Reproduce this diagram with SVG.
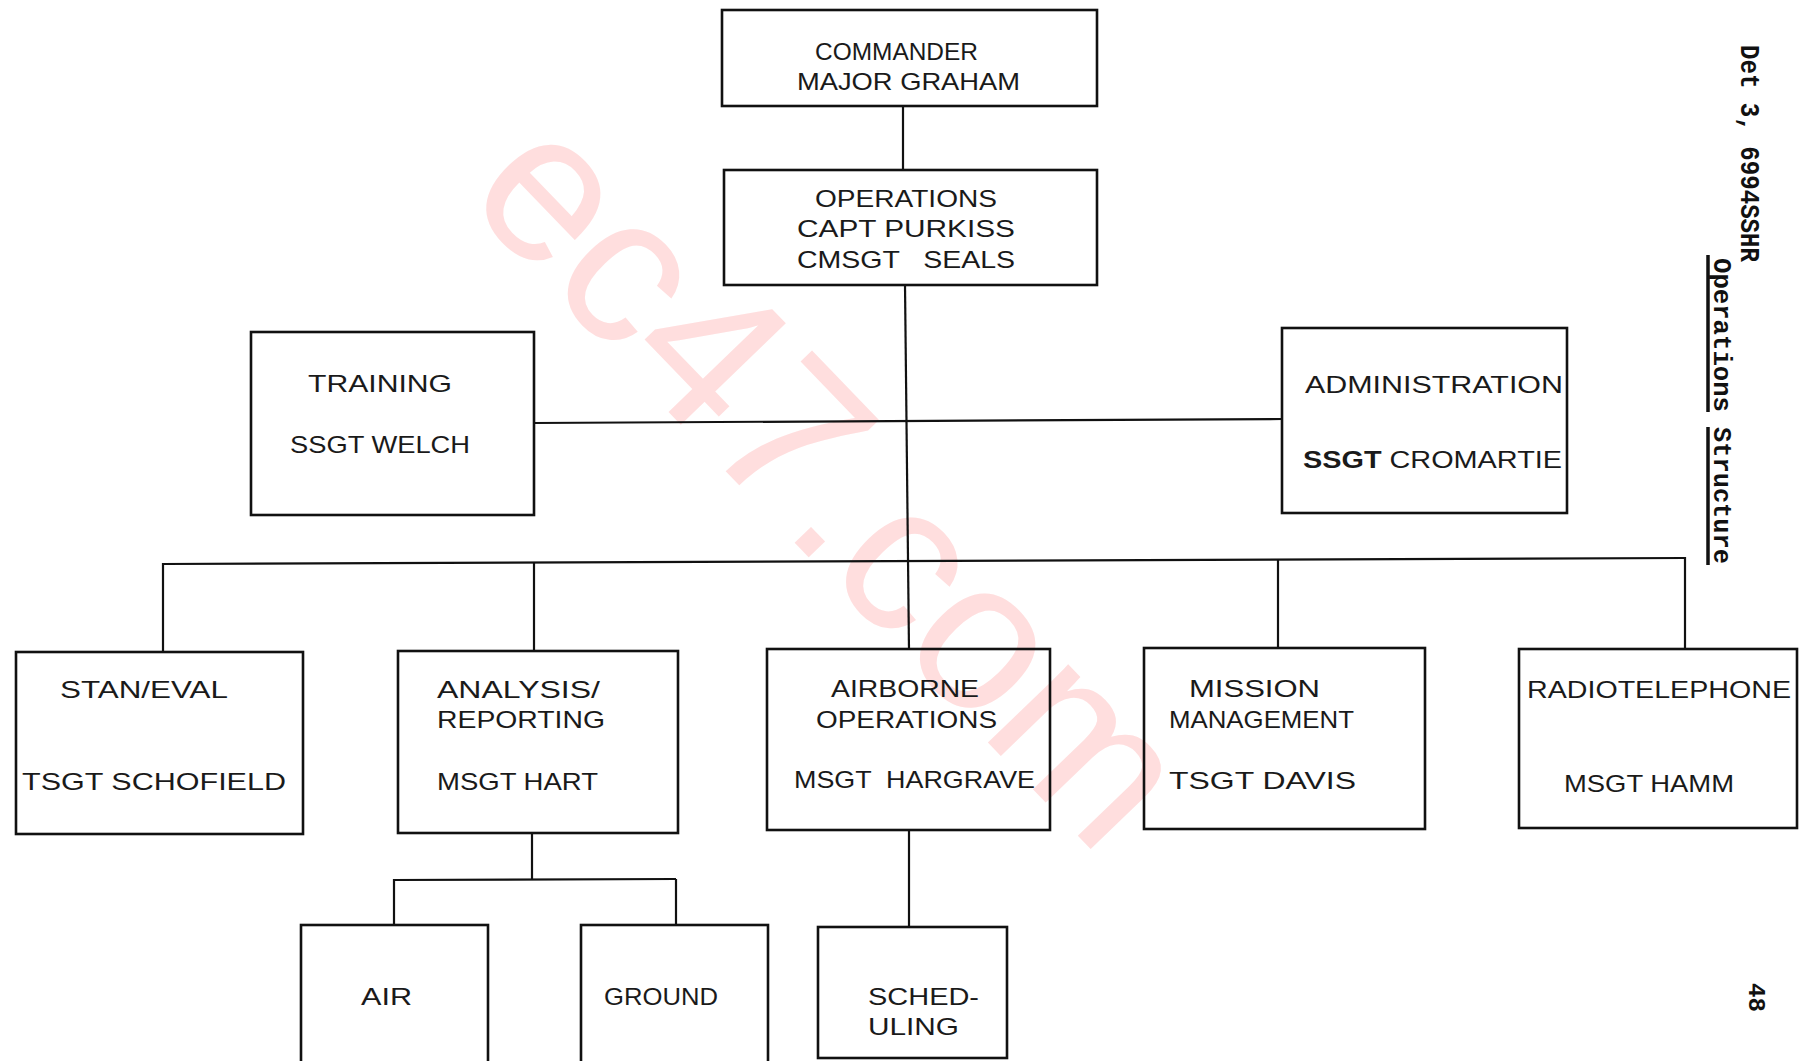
<svg xmlns="http://www.w3.org/2000/svg" width="1802" height="1061" viewBox="0 0 1802 1061">
<style>
.box{fill:none;stroke:#111;stroke-width:2.6}
.ln{fill:none;stroke:#111;stroke-width:2.2}
.t{font-family:"Liberation Sans",Arial,sans-serif;font-size:24px;fill:#1a1a1a}
.m{font-family:"Liberation Mono","Courier New",monospace;font-weight:bold;fill:#111}
.wm{font-family:"Liberation Sans",Arial,sans-serif;font-size:212px;fill:#ffdede}
</style>
<rect width="1802" height="1061" fill="#fff"/>
<g id="watermark"><text class="wm" transform="translate(462,198) rotate(46)">ec47.com</text></g>
<g id="connectors">
<line class="ln" x1="903" y1="106" x2="903" y2="170"/>
<line class="ln" x1="905" y1="285" x2="909" y2="650"/>
<line class="ln" x1="534" y1="423" x2="1282" y2="419"/>
<line class="ln" x1="163" y1="564" x2="1685" y2="558"/>
<line class="ln" x1="163" y1="563" x2="163" y2="652"/>
<line class="ln" x1="534" y1="563" x2="534" y2="650"/>
<line class="ln" x1="1278" y1="560" x2="1278" y2="648"/>
<line class="ln" x1="1685" y1="557" x2="1685" y2="649"/>
<line class="ln" x1="532" y1="834" x2="532" y2="880"/>
<line class="ln" x1="394" y1="880" x2="676" y2="879"/>
<line class="ln" x1="394" y1="879" x2="394" y2="925"/>
<line class="ln" x1="676" y1="879" x2="676" y2="925"/>
<line class="ln" x1="909" y1="830" x2="909" y2="927"/>
</g>
<g id="commander"><rect class="box" x="722" y="10" width="375" height="96"/>
<text class="t" x="815" y="60" textLength="163" lengthAdjust="spacingAndGlyphs">COMMANDER</text>
<text class="t" x="797" y="90" textLength="223" lengthAdjust="spacingAndGlyphs">MAJOR GRAHAM</text></g>
<g id="operations"><rect class="box" x="724" y="170" width="373" height="115"/>
<text class="t" x="815" y="207" textLength="182" lengthAdjust="spacingAndGlyphs">OPERATIONS</text>
<text class="t" x="797" y="237" textLength="218" lengthAdjust="spacingAndGlyphs">CAPT PURKISS</text>
<text class="t" x="797" y="268" textLength="218" lengthAdjust="spacingAndGlyphs" xml:space="preserve">CMSGT   SEALS</text></g>
<g id="training"><rect class="box" x="251" y="332" width="283" height="183"/>
<text class="t" x="308" y="392" textLength="144" lengthAdjust="spacingAndGlyphs">TRAINING</text>
<text class="t" x="290" y="453" textLength="180" lengthAdjust="spacingAndGlyphs">SSGT WELCH</text></g>
<g id="administration"><rect class="box" x="1282" y="328" width="285" height="185"/>
<text class="t" x="1305" y="393" textLength="258" lengthAdjust="spacingAndGlyphs">ADMINISTRATION</text>
<text class="t" x="1303" y="468" textLength="259" lengthAdjust="spacingAndGlyphs"><tspan font-weight="bold">SSGT</tspan> CROMARTIE</text></g>
<g id="staneval"><rect class="box" x="16" y="652" width="287" height="182"/>
<text class="t" x="60" y="698" textLength="168" lengthAdjust="spacingAndGlyphs">STAN/EVAL</text>
<text class="t" x="22" y="790" textLength="264" lengthAdjust="spacingAndGlyphs">TSGT SCHOFIELD</text></g>
<g id="analysis"><rect class="box" x="398" y="651" width="280" height="182"/>
<text class="t" x="437" y="698" textLength="163" lengthAdjust="spacingAndGlyphs">ANALYSIS/</text>
<text class="t" x="437" y="728" textLength="168" lengthAdjust="spacingAndGlyphs">REPORTING</text>
<text class="t" x="437" y="790" textLength="161" lengthAdjust="spacingAndGlyphs">MSGT HART</text></g>
<g id="airborne"><rect class="box" x="767" y="649" width="283" height="181"/>
<text class="t" x="831" y="697" textLength="148" lengthAdjust="spacingAndGlyphs">AIRBORNE</text>
<text class="t" x="816" y="728" textLength="181" lengthAdjust="spacingAndGlyphs">OPERATIONS</text>
<text class="t" x="794" y="788" textLength="241" lengthAdjust="spacingAndGlyphs" xml:space="preserve">MSGT  HARGRAVE</text></g>
<g id="mission"><rect class="box" x="1144" y="648" width="281" height="181"/>
<text class="t" x="1189" y="697" textLength="131" lengthAdjust="spacingAndGlyphs">MISSION</text>
<text class="t" x="1169" y="728" textLength="185" lengthAdjust="spacingAndGlyphs">MANAGEMENT</text>
<text class="t" x="1169" y="789" textLength="187" lengthAdjust="spacingAndGlyphs">TSGT DAVIS</text></g>
<g id="radiotelephone"><rect class="box" x="1519" y="649" width="278" height="179"/>
<text class="t" x="1527" y="698" textLength="264" lengthAdjust="spacingAndGlyphs">RADIOTELEPHONE</text>
<text class="t" x="1564" y="792" textLength="170" lengthAdjust="spacingAndGlyphs">MSGT HAMM</text></g>
<g id="air"><rect class="box" x="301" y="925" width="187" height="160"/>
<text class="t" x="361" y="1005" textLength="51" lengthAdjust="spacingAndGlyphs">AIR</text></g>
<g id="ground"><rect class="box" x="581" y="925" width="187" height="160"/>
<text class="t" x="604" y="1005" textLength="114" lengthAdjust="spacingAndGlyphs">GROUND</text></g>
<g id="scheduling"><rect class="box" x="818" y="927" width="189" height="131"/>
<text class="t" x="868" y="1005" textLength="111" lengthAdjust="spacingAndGlyphs">SCHED-</text>
<text class="t" x="868" y="1035" textLength="91" lengthAdjust="spacingAndGlyphs">ULING</text></g>
<g id="margin">
<text class="m" font-size="27" transform="translate(1741,45) rotate(90)" textLength="217" lengthAdjust="spacingAndGlyphs">Det 3, 6994SSHR</text>
<text class="m" font-size="26" transform="translate(1714,258) rotate(90)" textLength="154" lengthAdjust="spacingAndGlyphs">Operations</text>
<text class="m" font-size="26" transform="translate(1714,427) rotate(90)" textLength="137" lengthAdjust="spacingAndGlyphs">Structure</text>
<line x1="1708" y1="255" x2="1708" y2="412" stroke="#111" stroke-width="3.5"/>
<line x1="1708" y1="427" x2="1708" y2="565" stroke="#111" stroke-width="3.5"/>
<text class="m" font-size="24" transform="translate(1749,983) rotate(90)">48</text>
</g>
</svg>
